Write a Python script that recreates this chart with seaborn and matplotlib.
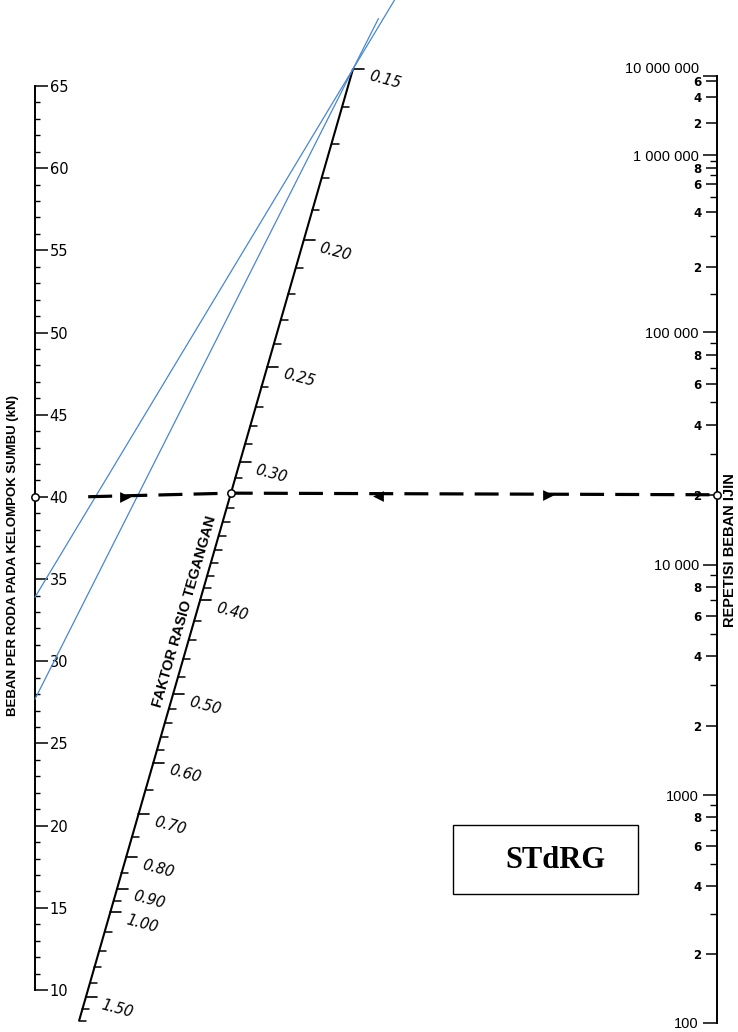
import numpy as np
import pandas as pd
import matplotlib
matplotlib.use("Agg")
import matplotlib.pyplot as plt
from matplotlib.patches import Rectangle
import seaborn as sns

# ----------------------------- data -----------------------------
# left scale: load per wheel (kN), linear
LOAD_LIMITS = [10, 65]
LOAD_MAJOR = [10, 15, 20, 25, 30, 35, 40, 45, 50, 55, 60, 65]
LOAD_MINOR = list(range(10, 66))

# middle (diagonal) scale: stress ratio factor
SR_MAJOR = [0.15, 0.20, 0.25, 0.30, 0.40, 0.50, 0.60, 0.70, 0.80, 0.90, 1.00, 1.50]
SR_MAJOR_LABELS = ["0.15", "0.20", "0.25", "0.30", "0.40", "0.50",
                   "0.60", "0.70", "0.80", "0.90", "1.00", "1.50"]
SR_MINOR = [0.16, 0.17, 0.18, 0.19, 0.21, 0.22, 0.23, 0.24, 0.26, 0.27, 0.28, 0.29,
            0.31, 0.32, 0.33, 0.34, 0.35, 0.36, 0.37, 0.38, 0.39,
            0.42, 0.44, 0.46, 0.48, 0.52, 0.54, 0.56, 0.58,
            0.65, 0.75, 0.85, 0.95, 1.1, 1.2, 1.3, 1.4, 1.6, 1.7]
# nomogram scale definition of the diagonal (value -> fraction along the line)
SR_SCALE_VALUES = [0.15, 0.20, 0.25, 0.30, 0.40, 0.50, 0.60, 0.70, 0.80, 0.90, 1.00, 1.50, 1.70]
SR_SCALE_FRACTION = [0.0, 0.180, 0.313, 0.413, 0.558, 0.657, 0.729, 0.783,
                     0.828, 0.861, 0.886, 0.975, 1.0]

# right scale: allowable load repetitions
REP_MAJOR = [1e2, 1e3, 1e4, 1e5, 1e6, 1e7]
REP_MAJOR_LABELS = ["100", "1000", "10 000", "100 000", "1 000 000", "10 000 000"]
REP_LABELED_MINOR = [200, 400, 600, 800, 2000, 4000, 6000, 8000,
                     2e4, 4e4, 6e4, 8e4, 2e5, 4e5, 6e5, 8e5, 2e6, 4e6, 6e6]
REP_LABELED_MINOR_LABELS = ["2", "4", "6", "8", "2", "4", "6", "8",
                            "2", "4", "6", "8", "2", "4", "6", "8", "2", "4", "6"]
REP_PLAIN_MINOR = [300, 500, 700, 900, 3000, 5000, 7000, 9000,
                   3e4, 5e4, 7e4, 9e4, 1.5e5, 3e5, 5e5, 7e5, 9e5]
# nomogram scale definition of the right axis (log10 N -> scale units)
REP_SCALE_LOG = [2, 3, 4, 5, 5.301, 5.477, 5.602, 5.778, 5.903, 6, 6.301, 6.602, 6.778, 7]
REP_SCALE_POS = [0, 1, 2.01, 3.03, 3.316, 3.452, 3.557, 3.680, 3.750, 3.807,
                 3.947, 4.061, 4.132, 4.154]

# worked example (dashed line)
EX_LOAD = 40
EX_SR = 0.32
EX_REP = 2.0e4
# blue construction lines
BLUE_LOADS = [33.9, 27.7]
BLUE_SR = 0.15

# ----------------------------- layout / style -----------------------------
W, H, DPI = 738, 1032, 100
LOAD_X = 35
LOAD_Y65, LOAD_Y10 = 86, 990
REP_X = 717
REP_YTOP, REP_YBOT = 76, 1023
DIAG_TOP = (353, 69)
DIAG_BOT = (79, 1021)
BLUE_EXTEND = [0.13, 0.08]
DASH_START_FRAC = 0.078
ARROW_FRACS = [0.132, 0.503, 0.752]
ARROW_MARKERS = [">", "<", ">"]
BLUE = "#4a86cf"

sns.set_theme(style="white")
plt.rcParams["font.family"] = ["DejaVu Sans"]
for k in ["text.color", "axes.labelcolor", "xtick.color", "ytick.color", "axes.edgecolor"]:
    plt.rcParams[k] = "black"

fig = plt.figure(figsize=(W / DPI, H / DPI), dpi=DPI)
fig.patch.set_facecolor("white")


def fig_rect(x0, y_top, w, y_bot):
    return [x0 / W, 1 - y_bot / H, w / W, (y_bot - y_top) / H]


# ---- left axis ----
ax_load = fig.add_axes(fig_rect(0, LOAD_Y65, LOAD_X, LOAD_Y10))
ax_load.patch.set_visible(False)
ax_load.set_xlim(0, 1)
ax_load.set_ylim(*LOAD_LIMITS)
for s in ["left", "top", "bottom"]:
    ax_load.spines[s].set_visible(False)
ax_load.spines["right"].set_linewidth(1.4)
ax_load.spines["right"].set_color("black")
ax_load.set_xticks([])
ax_load.yaxis.tick_right()
ax_load.set_yticks(LOAD_MAJOR, labels=[str(v) for v in LOAD_MAJOR])
ax_load.set_yticks(LOAD_MINOR, minor=True)
ax_load.tick_params(axis="y", which="major", direction="out", length=9.5, width=1.1,
                    labelsize=10.5, pad=1, right=True, left=False, colors="black")
ax_load.tick_params(axis="y", which="minor", direction="out", length=3.5, width=1.0,
                    right=True, left=False, colors="black")


# ---- right axis (custom nomogram scale) ----
def rep_forward(v):
    v = np.asarray(v, dtype=float)
    lv = np.log10(np.clip(v, 1e-12, None))
    return np.interp(lv, REP_SCALE_LOG, REP_SCALE_POS)


def rep_inverse(p):
    p = np.asarray(p, dtype=float)
    return 10 ** np.interp(p, REP_SCALE_POS, REP_SCALE_LOG)


def make_rep_axis():
    a = fig.add_axes(fig_rect(REP_X, REP_YTOP, 15, REP_YBOT))
    a.patch.set_visible(False)
    a.set_yscale("function", functions=(rep_forward, rep_inverse))
    a.set_ylim(REP_MAJOR[0], REP_MAJOR[-1])
    a.set_xlim(0, 1)
    a.set_xticks([])
    for s in ["right", "top", "bottom"]:
        a.spines[s].set_visible(False)
    return a


ax_rep = make_rep_axis()
ax_rep.spines["left"].set_linewidth(1.4)
ax_rep.spines["left"].set_color("black")
ax_rep.set_yticks(REP_MAJOR, labels=REP_MAJOR_LABELS)
ax_rep.set_yticks(REP_LABELED_MINOR, labels=REP_LABELED_MINOR_LABELS, minor=True)
ax_rep.tick_params(axis="y", which="major", direction="out", length=10, width=1.1,
                   labelsize=10.5, pad=3, left=True, right=False, colors="black")
ax_rep.tick_params(axis="y", which="minor", direction="out", length=8, width=1.1,
                   labelsize=8.5, pad=3, left=True, right=False, colors="black")
for t in ax_rep.get_yticklabels(minor=True):
    t.set_fontweight("bold")
for t in ax_rep.get_yticklabels():
    t.set_family("Liberation Sans")
# the top decade label sits above its tick, as on the original chart
ax_rep.get_yticklabels()[-1].set_verticalalignment("bottom")

ax_rep2 = make_rep_axis()
ax_rep2.spines["left"].set_visible(False)
ax_rep2.set_yticks(REP_PLAIN_MINOR, labels=[""] * len(REP_PLAIN_MINOR))
ax_rep2.set_yticks([], minor=True)
ax_rep2.tick_params(axis="y", which="major", direction="out", length=5, width=1.0,
                    left=True, right=False, colors="black")

# ---- overlay in figure pixels ----
ax = fig.add_axes([0, 0, 1, 1], zorder=5)
ax.set_xlim(0, W)
ax.set_ylim(H, 0)
ax.axis("off")


def to_overlay(src_ax, xs, ys):
    pts = src_ax.transData.transform(np.column_stack([xs, ys]))
    return ax.transData.inverted().transform(pts)


def load_point(v):
    return to_overlay(ax_load, [1.0], [v])[0]


def rep_point(v):
    return to_overlay(ax_rep, [0.0], [v])[0]


def sr_point(v):
    t = np.interp(np.log(v), np.log(SR_SCALE_VALUES), SR_SCALE_FRACTION)
    return np.array([DIAG_TOP[0] + t * (DIAG_BOT[0] - DIAG_TOP[0]),
                     DIAG_TOP[1] + t * (DIAG_BOT[1] - DIAG_TOP[1])])


# diagonal scale line and ticks
p_top, p_bot = sr_point(SR_SCALE_VALUES[0]), sr_point(SR_SCALE_VALUES[-1])
ax.plot([p_top[0], p_bot[0]], [p_top[1], p_bot[1]], color="black", lw=1.5,
        solid_capstyle="butt")
for v in SR_MINOR:
    x, y = sr_point(v)
    ax.plot([x, x + 7], [y, y], color="black", lw=1.1)
for v, lab in zip(SR_MAJOR, SR_MAJOR_LABELS):
    x, y = sr_point(v)
    ax.plot([x, x + 11], [y, y], color="black", lw=1.2)
    ax.text(x + 16, y + 7, lab, rotation=-15, rotation_mode="anchor", ha="left",
            va="center", fontsize=10.5, style="italic", color="black")

# axis titles
ang = np.degrees(np.arctan2(DIAG_BOT[1] - DIAG_TOP[1], DIAG_TOP[0] - DIAG_BOT[0]))
cx, cy = sr_point(0.414)
ax.text(cx - 11.5, cy - 3.3, "FAKTOR RASIO TEGANGAN", rotation=ang, rotation_mode="anchor",
        ha="center", va="center", fontsize=10.5, fontweight="bold", family="Liberation Sans")
ax.text(13, 556, "BEBAN PER RODA PADA KELOMPOK SUMBU (kN)", rotation=90, ha="center",
        va="center", fontsize=9.5, fontweight="bold", family="Liberation Sans")
ax.text(730, 550, "REPETISI BEBAN IJIN", rotation=90, ha="center", va="center",
        fontsize=10.5, fontweight="bold", family="Liberation Sans")

# blue construction lines
p_sr = sr_point(BLUE_SR)
for load, ext in zip(BLUE_LOADS, BLUE_EXTEND):
    p0 = load_point(load)
    p2 = p_sr + ext * (p_sr - p0)
    sns.lineplot(x=[p0[0], p2[0]], y=[p0[1], p2[1]], ax=ax, color=BLUE, lw=0.9,
                 sort=False, estimator=None)

# worked example dashed line
pL, pM, pR = load_point(EX_LOAD), sr_point(EX_SR), rep_point(EX_REP)
pS = pL + DASH_START_FRAC * (pR - pL)
sns.lineplot(x=[pS[0], pM[0], pR[0]], y=[pS[1], pM[1], pR[1]], ax=ax, color="black",
             lw=2.3, linestyle=(0, (7.5, 3.5)), sort=False, estimator=None)
for f, m in zip(ARROW_FRACS, ARROW_MARKERS):
    pa = pL + f * (pR - pL)
    ax.scatter([pa[0]], [pa[1]], marker=m, s=60, color="black", zorder=6, linewidths=0)
pts = pd.DataFrame({"x": [pL[0], pM[0], pR[0]], "y": [pL[1], pM[1], pR[1]]})
sns.scatterplot(data=pts, x="x", y="y", ax=ax, s=28, facecolor="white",
                edgecolor="black", linewidth=1.1, zorder=7)

# STdRG box
ax.add_patch(Rectangle((453, 825), 185, 69, fill=False, lw=1.0, ec="black"))
ax.text(555, 860, "STdRG", ha="center", va="center", fontsize=22, fontweight="bold",
        family="Liberation Serif", color="black")

ax.set_xlabel("")
ax.set_ylabel("")
fig.savefig("out.png", dpi=DPI, facecolor="white")
